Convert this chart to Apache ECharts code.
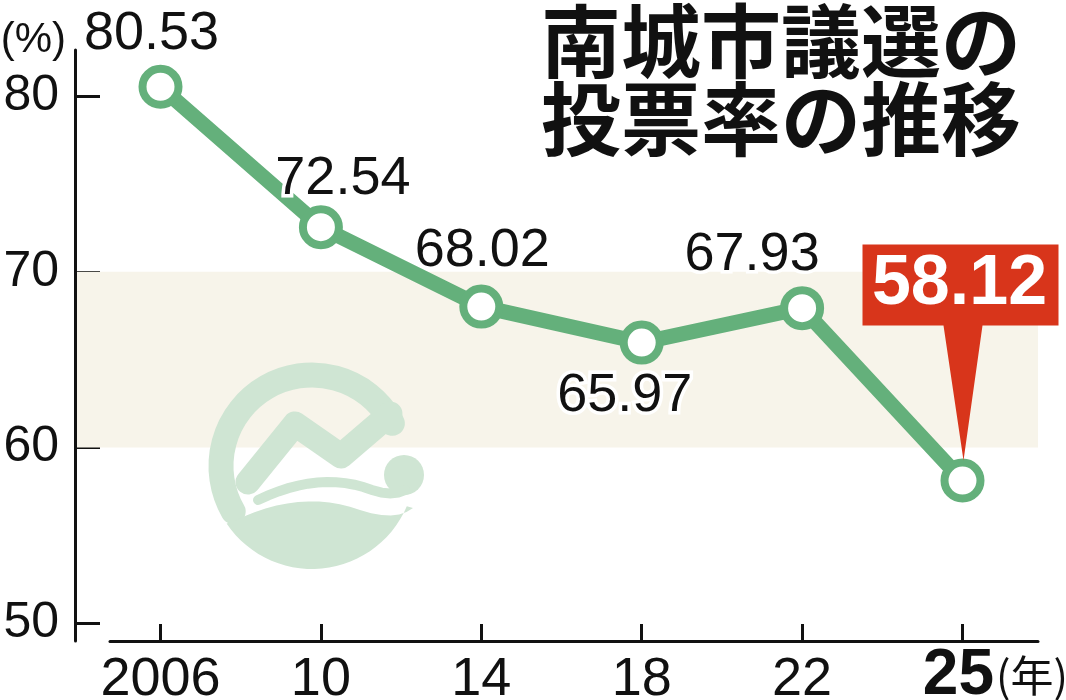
<!DOCTYPE html>
<html>
<head>
<meta charset="utf-8">
<script src="https://cdn.jsdelivr.net/npm/echarts@6/dist/echarts.min.js"></script>
<style>
html,body{margin:0;padding:0;background:#fff;}
#chart{width:1066px;height:700px;}
</style>
</head>
<body>
<div id="chart"></div>
<script>
// ---- data ----
const categories = ['2006', '10', '14', '18', '22', '25'];
const turnout = [80.53, 72.54, 68.02, 65.97, 67.93, 58.12];
const yTicks = [50, 60, 70, 80];
const bandRange = [60, 70];
const titleText = '南城市議選の\n投票率の推移';
const yUnit = '(%)';
const xUnit = '(年)';

// ---- layout / style ----
const NUM_FONT = "'Liberation Sans','Arimo',sans-serif";
const CJK_FONT = "'Noto Sans CJK JP','Noto Sans CJK SC',sans-serif";
const GREEN = '#64b07b';
const RED = '#d8351b';
const BAND = '#f7f4ea';
const LOGO = '#cfe5d3';
const labelOffsets = [[-9, -53], [22, -48], [1, -55], [-17, 53], [-50, -53], null];
const xIdx = categories.map((c, i) => i);

// decorative logo geometry (watermark)
function quadPts(p0, p1, p2, n) {
  const pts = [];
  for (let k = 0; k <= n; k++) {
    const t = k / n, a = (1 - t) * (1 - t), b = 2 * (1 - t) * t, c = t * t;
    pts.push([a * p0[0] + b * p1[0] + c * p2[0], a * p0[1] + b * p1[1] + c * p2[1]]);
  }
  return pts;
}
function arcPts(cx, cy, r, a0, a1, n) {
  const pts = [];
  for (let k = 0; k <= n; k++) {
    const a = (a0 + (a1 - a0) * k / n) * Math.PI / 180;
    pts.push([cx + r * Math.cos(a), cy + r * Math.sin(a)]);
  }
  return pts;
}
const LX = 312, LY = 466;
const bottomShape = quadPts([232, 522], [300, 488], [360, 510], 12)
  .concat(quadPts([360, 510], [395, 522], [413, 508], 6))
  .concat(arcPts(LX, LY, 103, 23, 146, 30));

const chart = echarts.init(document.getElementById('chart'), null, {renderer: 'canvas'});

const lineData = turnout.map((v, i) => {
  const off = labelOffsets[i];
  return {
    value: [i, v],
    label: off ? {show: true, position: 'inside', offset: off} : {show: false}
  };
});

const last = turnout.length - 1;

const option = {
  animation: false,
  backgroundColor: '#fff',
  title: {
    text: titleText,
    left: 536,
    top: -3,
    textStyle: {
      fontFamily: CJK_FONT, fontWeight: 'bold', fontSize: 80, lineHeight: 78, color: '#111'
    }
  },
  grid: [
    {left: 77, right: 28, top: 50, bottom: 59, outerBoundsMode: 'none', containLabel: false},
    {left: 110, right: 28, top: 50, bottom: 59, outerBoundsMode: 'none', containLabel: false}
  ],
  xAxis: [
    {
      type: 'value', gridIndex: 0, min: -0.5206, max: 5.4707,
      axisLine: {show: false},
      splitLine: {show: false},
      axisTick: {show: true, inside: true, length: 17, customValues: xIdx,
        lineStyle: {color: '#111', width: 3}},
      axisLabel: {
        customValues: xIdx, margin: 12, color: '#111',
        fontFamily: NUM_FONT, fontSize: 54,
        formatter: (v) => {
          const i = Math.round(v);
          if (i === last) return '{pad|}{b|' + categories[i] + '}{n|' + xUnit + '}';
          return categories[i];
        },
        rich: {
          pad: {width: 66, height: 46},
          b: {fontFamily: NUM_FONT, fontWeight: 'bold', fontSize: 64, color: '#111',
            height: 46, verticalAlign: 'middle'},
          n: {fontFamily: CJK_FONT, fontSize: 43, color: '#111', padding: [0, 0, 0, 2],
            height: 46, verticalAlign: 'middle'}
        }
      }
    },
    {
      type: 'value', gridIndex: 1, min: 0, max: 1,
      axisLine: {show: true, onZero: false, lineStyle: {color: '#111', width: 3}},
      axisTick: {show: false}, axisLabel: {show: false}, splitLine: {show: false}
    }
  ],
  yAxis: [
    {
      type: 'value', gridIndex: 0, min: 48.986, max: 82.625, offset: 2,
      name: yUnit, nameLocation: 'end', nameGap: 10,
      nameTextStyle: {fontFamily: NUM_FONT, fontSize: 42, color: '#111',
        align: 'right', verticalAlign: 'middle', padding: [0, 9, 0, 0]},
      axisLine: {show: true, onZero: false, lineStyle: {color: '#111', width: 3}},
      axisTick: {show: true, inside: true, length: 25, customValues: yTicks,
        lineStyle: {color: '#111', width: 3}},
      axisLabel: {customValues: yTicks, margin: 16, color: '#111',
        fontFamily: NUM_FONT, fontSize: 50},
      splitLine: {show: false}
    },
    {type: 'value', gridIndex: 1, show: false, min: 0, max: 1}
  ],
  graphic: [
    {type: 'group', z: 3, silent: true, children: [
      {type: 'arc', z: 3, shape: {cx: LX, cy: LY, r: 91, startAngle: 150 * Math.PI / 180,
        endAngle: 332 * Math.PI / 180, clockwise: true},
        style: {fill: null, stroke: LOGO, lineWidth: 25, lineCap: 'round'}},
      {type: 'polyline', z: 3, shape: {points: [[248, 482], [295, 424], [341, 456], [390, 414]]},
        style: {fill: null, stroke: LOGO, lineWidth: 25, lineCap: 'round', lineJoin: 'round'}},
      {type: 'circle', z: 3, shape: {cx: 404, cy: 475, r: 20}, style: {fill: LOGO}},
      {type: 'polygon', z: 3, shape: {points: bottomShape}, style: {fill: LOGO}},
      {type: 'polyline', z: 3, shape: {points: quadPts([258, 500], [320, 470], [372, 490], 12)
        .concat(quadPts([372, 490], [392, 497], [405, 490], 4))},
        style: {fill: null, stroke: LOGO, lineWidth: 10, lineCap: 'round'}}
    ]}
  ],
  series: [
    {
      type: 'line', xAxisIndex: 0, yAxisIndex: 0, data: [], z: 1,
      markArea: {silent: true, z: 1, itemStyle: {color: BAND},
        data: [[{yAxis: bandRange[0]}, {yAxis: bandRange[1]}]]}
    },
    {
      type: 'line', xAxisIndex: 0, yAxisIndex: 0, z: 5,
      data: lineData,
      symbol: 'circle', symbolSize: 36,
      lineStyle: {color: GREEN, width: 15},
      itemStyle: {color: '#fff', borderColor: GREEN, borderWidth: 8},
      label: {
        fontFamily: NUM_FONT, fontSize: 54, color: '#111',
        textBorderColor: '#fff', textBorderWidth: 7
      },
      markPoint: {
        silent: true, z: 6,
        data: [{
          coord: [last, turnout[last]],
          value: turnout[last].toFixed(2),
          symbol: 'path://M0,0 H196 V81 H120 L101,216 L81,81 H0 Z',
          symbolSize: [196, 216],
          symbolOffset: [-2, -128],
          itemStyle: {color: RED},
          label: {
            show: true, position: 'inside', offset: [-1, -68],
            formatter: '{c}',
            fontFamily: NUM_FONT, fontWeight: 'bold', fontSize: 70, color: '#fff'
          }
        }]
      }
    }
  ]
};
chart.setOption(option);
</script>
</body>
</html>
